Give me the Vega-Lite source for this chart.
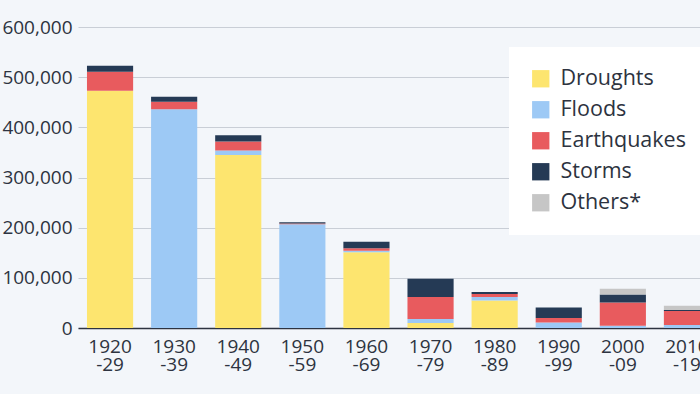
{
  "$schema": "https://vega.github.io/schema/vega-lite/v6.json",
  "autosize": "none",
  "padding": {"left": 78, "top": 27, "right": 0, "bottom": 66},
  "width": 641,
  "height": 301,
  "background": "#f3f6fa",
  "config": {
    "font": "Open Sans",
    "view": {"stroke": null},
    "axis": {"labelFont": "Open Sans", "labelColor": "#2d3340"}
  },
  "data": {
    "values": [
      {"decade": "1920|-29", "type": "Droughts", "value": 473000, "o": 1},
      {"decade": "1920|-29", "type": "Earthquakes", "value": 38000, "o": 3},
      {"decade": "1920|-29", "type": "Storms", "value": 12000, "o": 4},
      {"decade": "1930|-39", "type": "Floods", "value": 436000, "o": 2},
      {"decade": "1930|-39", "type": "Earthquakes", "value": 15000, "o": 3},
      {"decade": "1930|-39", "type": "Storms", "value": 10000, "o": 4},
      {"decade": "1940|-49", "type": "Droughts", "value": 345000, "o": 1},
      {"decade": "1940|-49", "type": "Floods", "value": 9000, "o": 2},
      {"decade": "1940|-49", "type": "Earthquakes", "value": 18000, "o": 3},
      {"decade": "1940|-49", "type": "Storms", "value": 12000, "o": 4},
      {"decade": "1950|-59", "type": "Floods", "value": 207000, "o": 2},
      {"decade": "1950|-59", "type": "Earthquakes", "value": 1500, "o": 3},
      {"decade": "1950|-59", "type": "Storms", "value": 2500, "o": 4},
      {"decade": "1960|-69", "type": "Droughts", "value": 151000, "o": 1},
      {"decade": "1960|-69", "type": "Floods", "value": 3000, "o": 2},
      {"decade": "1960|-69", "type": "Earthquakes", "value": 5000, "o": 3},
      {"decade": "1960|-69", "type": "Storms", "value": 13000, "o": 4},
      {"decade": "1970|-79", "type": "Droughts", "value": 10000, "o": 1},
      {"decade": "1970|-79", "type": "Floods", "value": 8000, "o": 2},
      {"decade": "1970|-79", "type": "Earthquakes", "value": 44000, "o": 3},
      {"decade": "1970|-79", "type": "Storms", "value": 36000, "o": 4},
      {"decade": "1980|-89", "type": "Droughts", "value": 55000, "o": 1},
      {"decade": "1980|-89", "type": "Floods", "value": 7000, "o": 2},
      {"decade": "1980|-89", "type": "Earthquakes", "value": 6000, "o": 3},
      {"decade": "1980|-89", "type": "Storms", "value": 4000, "o": 4},
      {"decade": "1990|-99", "type": "Floods", "value": 11000, "o": 2},
      {"decade": "1990|-99", "type": "Earthquakes", "value": 9000, "o": 3},
      {"decade": "1990|-99", "type": "Storms", "value": 21000, "o": 4},
      {"decade": "2000|-09", "type": "Floods", "value": 4500, "o": 2},
      {"decade": "2000|-09", "type": "Earthquakes", "value": 46500, "o": 3},
      {"decade": "2000|-09", "type": "Storms", "value": 16000, "o": 4},
      {"decade": "2000|-09", "type": "Others*", "value": 11000, "o": 5},
      {"decade": "2010|-19", "type": "Floods", "value": 6000, "o": 2},
      {"decade": "2010|-19", "type": "Earthquakes", "value": 28000, "o": 3},
      {"decade": "2010|-19", "type": "Storms", "value": 2000, "o": 4},
      {"decade": "2010|-19", "type": "Others*", "value": 8500, "o": 5}
    ]
  },
  "mark": {"type": "bar"},
  "encoding": {
    "x": {
      "field": "decade",
      "type": "nominal",
      "sort": null,
      "scale": {"paddingInner": 0.28, "paddingOuter": 0.14},
      "axis": {
        "title": null,
        "labelAngle": 0,
        "labelExpr": "split(datum.label, '|')",
        "labelFontSize": 19,
        "labelLineHeight": 18,
        "labelPadding": 9,
        "ticks": false,
        "domainColor": "#2d3340",
        "domainWidth": 1.5,
        "grid": false
      }
    },
    "y": {
      "field": "value",
      "type": "quantitative",
      "stack": "zero",
      "scale": {"domain": [0, 600000]},
      "axis": {
        "title": null,
        "values": [0, 100000, 200000, 300000, 400000, 500000, 600000],
        "format": ",d",
        "labelFontSize": 19,
        "labelPadding": 6,
        "ticks": false,
        "domain": false,
        "gridColor": "#c9ced6",
        "gridWidth": 1
      }
    },
    "color": {
      "field": "type",
      "type": "nominal",
      "scale": {
        "domain": ["Droughts", "Floods", "Earthquakes", "Storms", "Others*"],
        "range": ["#fde56f", "#9dc9f5", "#e85b5e", "#253a55", "#c6c6c6"]
      },
      "legend": {
        "title": null,
        "orient": "none",
        "legendX": 431,
        "legendY": 20,
        "fillColor": "#ffffff",
        "padding": 21,
        "symbolType": "square",
        "symbolSize": 300,
        "symbolStrokeWidth": 0,
        "labelFontSize": 21.5,
        "labelFont": "Open Sans",
        "labelColor": "#2d3340",
        "labelOffset": 9,
        "rowPadding": 8,
        "labelLimit": 300
      }
    },
    "order": {"field": "o", "type": "quantitative", "sort": "ascending"}
  }
}
